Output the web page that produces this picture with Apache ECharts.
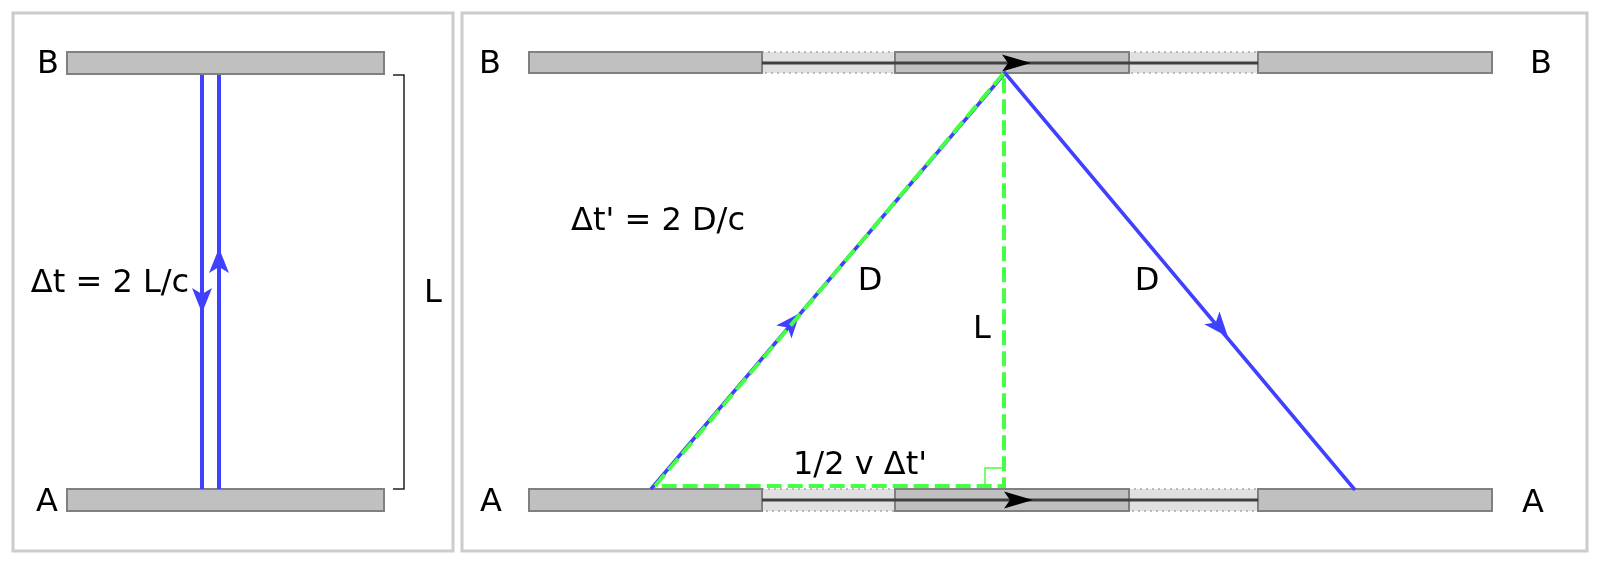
<!DOCTYPE html>
<html>
<head>
<meta charset="utf-8">
<script src="https://cdn.jsdelivr.net/npm/echarts@6/dist/echarts.min.js"></script>
<style>html,body{margin:0;padding:0;background:#fff}#c{width:1600px;height:565px}</style>
</head>
<body>
<div id="c"></div>
<script>
// ---- diagram data (coordinates on a 0..1600 x 0..565 scale) ----
const panels = [[13,13,453,551],[462,13,1587,551]];
const mirrors = [
  [67,52,384,74],[67,489,384,511],
  [529,52,762,73],[895,52,1129,73],[1258,52,1492,73],
  [529,489,762,511],[895,489,1129,511],[1258,489,1492,511]
];
const ghosts = [[762,52,1258,73],[762,489,1258,511]];
const trackTop = [[762,63],[1258,63]];
const trackBottom = [[762,500],[1258,500]];
const trackArrows = [[1031,63,900,63],[1033,500,900,500]];
const bracket = [[393,75],[404,75],[404,489],[393,489]];
const lightDown = [[202,75],[202,489]];
const lightUp = [[219,489],[219,75]];
const lightPath = [[651,489],[1005,73],[1355,490]];
const lightArrows = [[202,313,202,100],[219,248,219,450],[800,313,651,489],[1228,337,1005,73]];
const triangle = [[655,486],[1004,73],[1004,486],[655,486]];
const rightAngle = [[985,486],[985,468],[1004,468]];
const labels = ['B','A','Δt = 2 L/c','L','B','B','A','A',"Δt' = 2 D/c",'D','D','L',"1/2 v Δt'"];
const labelPos = [[48,65],[47,503],[110,284],[433,294],[490,65],[1541,65],[491,503],[1533,504],[658,222],[870,282],[1147,282],[982,330],[860,466]];

const FONT = '"DejaVu Sans", sans-serif';

function rectSeries(data, style, z) {
  return {
    type: 'custom', coordinateSystem: 'cartesian2d', data, z, silent: true,
    encode: {x: [0, 2], y: [1, 3]},
    renderItem(params, api) {
      const p0 = api.coord([api.value(0), api.value(1)]);
      const p1 = api.coord([api.value(2), api.value(3)]);
      return {type: 'rect', shape: {x: Math.min(p0[0], p1[0]), y: Math.min(p0[1], p1[1]),
        width: Math.abs(p1[0] - p0[0]), height: Math.abs(p1[1] - p0[1])}, style};
    }
  };
}
function arrowSeries(data, len, wid, notch, color, z) {
  return {
    type: 'custom', coordinateSystem: 'cartesian2d', data, z, silent: true,
    encode: {x: [0, 2], y: [1, 3]},
    renderItem(params, api) {
      const t = api.coord([api.value(0), api.value(1)]);
      const f = api.coord([api.value(2), api.value(3)]);
      let ux = t[0] - f[0], uy = t[1] - f[1];
      const d = Math.hypot(ux, uy); ux /= d; uy /= d;
      const nx = -uy, ny = ux;
      const bx = t[0] - ux * len, by = t[1] - uy * len;
      const pts = [t,
        [bx + nx * wid / 2, by + ny * wid / 2],
        [t[0] - ux * (len - notch), t[1] - uy * (len - notch)],
        [bx - nx * wid / 2, by - ny * wid / 2]];
      return {type: 'polygon', shape: {points: pts}, style: {fill: color}};
    }
  };
}
function lineSeries(data, color, width, z, dash) {
  return {
    type: 'line', data, z, silent: true, showSymbol: false, symbol: 'none',
    lineStyle: {color, width, type: dash || 'solid', join: 'miter', cap: 'butt'},
    animation: false
  };
}

const chart = echarts.init(document.getElementById('c'), null, {renderer: 'canvas'});
chart.setOption({
  animation: false,
  backgroundColor: '#ffffff',
  grid: {left: 0, right: 0, top: 0, bottom: 0},
  xAxis: {type: 'value', min: 0, max: 1600, show: false},
  yAxis: {type: 'value', min: 0, max: 565, inverse: true, show: false},
  series: [
    rectSeries(panels, {fill: 'none', stroke: '#cccccc', lineWidth: 3}, 1),
    rectSeries(ghosts, {fill: '#e0e0e0', stroke: '#a8a8a8', lineWidth: 1.5, lineDash: [2, 4]}, 2),
    rectSeries(mirrors, {fill: '#c0c0c0', stroke: '#808080', lineWidth: 2}, 3),
    lineSeries(trackTop, '#404040', 3, 4),
    lineSeries(trackBottom, '#404040', 3, 4),
    arrowSeries(trackArrows, 29, 17, 6, '#000000', 5),
    lineSeries(bracket, '#222222', 1.5, 4),
    lineSeries(lightDown, '#4040ff', 4, 6),
    lineSeries(lightUp, '#4040ff', 4, 6),
    lineSeries(lightPath, '#4040ff', 3.5, 6),
    arrowSeries(lightArrows, 25, 20, 6, '#4040ff', 7),
    lineSeries(triangle, '#44ff44', 4, 8, [15, 6]),
    lineSeries(rightAngle, '#44ff44', 1.5, 8),
    {
      type: 'custom', coordinateSystem: 'cartesian2d', data: labelPos, z: 10, silent: true,
      renderItem(params, api) {
        const p = api.coord([api.value(0), api.value(1)]);
        return {type: 'text', x: p[0], y: p[1],
          style: {text: labels[params.dataIndex], fontFamily: FONT, fontSize: 32, fill: '#000',
            align: 'center', verticalAlign: 'middle'}};
      }
    }
  ]
});
</script>
</body>
</html>
